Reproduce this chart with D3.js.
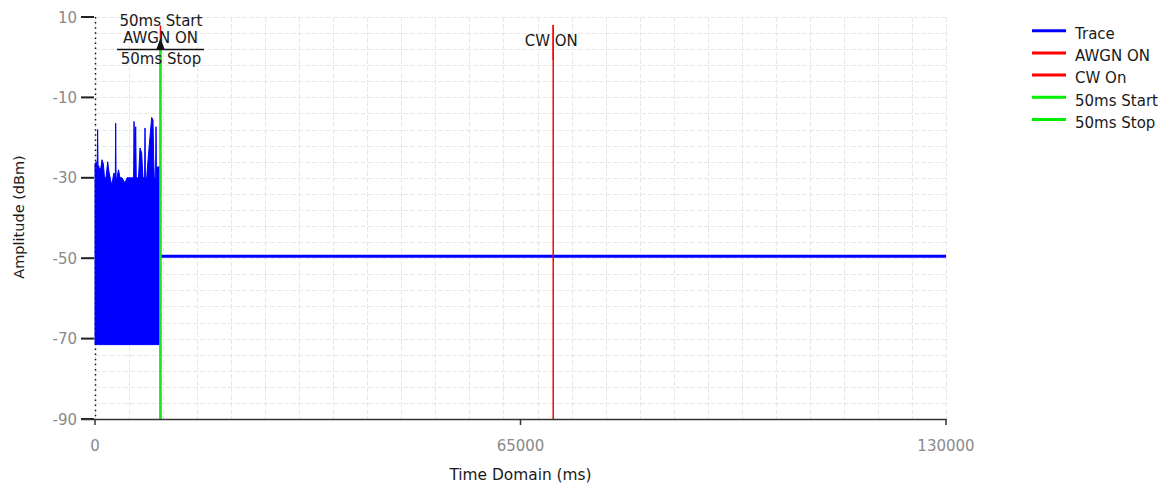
<!DOCTYPE html>
<html>
<head>
<meta charset="utf-8">
<script src="https://cdn.jsdelivr.net/npm/d3@7/dist/d3.min.js"></script>
<style>
  html, body { margin: 0; padding: 0; background: #fff; }
  svg { display: block; font-family: "DejaVu Sans", sans-serif; }
</style>
</head>
<body>
<svg id="chart" width="1169" height="491"></svg>
<script>
// ---- data ----
const xTicks = [0, 65000, 130000];
const yTicks = [10, -10, -30, -50, -70, -90];
// burst region (0 – 10000 ms): time of each spike sample and its peak amplitude
const burstTime = [0, 200, 330, 400, 470, 560, 700, 900, 1070, 1270, 1450, 1680, 1940, 2140, 2370, 2600, 2750, 2900, 3100, 3160, 3220, 3360, 3590, 3820, 4120, 4580, 4890, 5500, 5900, 5960, 6100, 6220, 6300, 6420, 6650, 6870, 7130, 7330, 7580, 7640, 7700, 7900, 8140, 8400, 8660, 8860, 8960, 9060, 9260, 9320, 9380, 9580, 9780, 10000];
const burstPeak = [-26.5, -26, -29, -18, -28, -27, -28, -27.5, -25.5, -26.5, -30, -30, -26, -28.6, -30.5, -32, -30, -28.8, -30, -16.4, -30, -30, -28, -30, -30, -31.3, -30, -30, -30, -16, -25, -17.3, -30, -30, -30, -22.6, -23.8, -30, -30, -17.6, -30, -30, -24.8, -19.8, -15, -15.6, -25, -30, -30, -17.3, -27.3, -27.3, -27.3, -27.3];
const burstFloor = -71.5;
// steady trace after the burst
const steadyTime = [10000, 130000];
const steadyLevel = [-49.5, -49.5];
// marker lines
const markers = [
  { name: "AWGN ON", time: 10000, top: 7.9, color: "#ff0000" },
  { name: "CW ON", time: 70000, top: 8.0, color: "#ff0000" },
  { name: "50ms Start", time: 10000, top: 2.3, color: "#1ee61e" }
];
const legendNames = ["Trace", "AWGN ON", "CW On", "50ms Start", "50ms Stop"];
const legendColors = ["#0000ff", "#ff0000", "#ff0000", "#00ee00", "#00ee00"];
const gridXStep = 5200;
const gridYStep = 4;

// ---- chart ----
const svg = d3.select("#chart");
const x = d3.scaleLinear().domain([0, 130000]).range([95, 946]);
const y = d3.scaleLinear().domain([-90, 10]).range([419, 17]);

// grid
const gx = d3.range(0, 130000 + 1, gridXStep);
const gy = d3.range(-90, 10 + 0.001, gridYStep);
const grid = svg.append("g").attr("stroke", "#e8e8e8").attr("stroke-width", 1).attr("stroke-dasharray", "5,2");
grid.selectAll("line.gx").data(gx).join("line")
  .attr("x1", d => Math.round(x(d)) + 0.5).attr("x2", d => Math.round(x(d)) + 0.5)
  .attr("y1", y(10)).attr("y2", y(-90));
grid.selectAll("line.gy").data(gy).join("line")
  .attr("y1", d => Math.round(y(d)) + 0.5).attr("y2", d => Math.round(y(d)) + 0.5)
  .attr("x1", x(0)).attr("x2", x(130000));

// burst area
const burst = burstTime.map((t, i) => ({ t, v: burstPeak[i] }));
svg.append("path").datum(burst)
  .attr("fill", "#0000ff")
  .attr("stroke", "#0000ff").attr("stroke-width", 1)
  .attr("d", d3.area().x(d => x(d.t)).y0(y(burstFloor)).y1(d => y(d.v)));

// steady trace
const steady = steadyTime.map((t, i) => ({ t, v: steadyLevel[i] }));
svg.append("path").datum(steady)
  .attr("fill", "none").attr("stroke", "#0000ff").attr("stroke-width", 3)
  .attr("d", d3.line().x(d => x(d.t)).y(d => y(d.v)));

// marker lines
svg.selectAll("line.marker").data(markers).join("line")
  .attr("x1", d => x(d.time)).attr("x2", d => x(d.time))
  .attr("y1", d => y(d.top)).attr("y2", y(-90))
  .attr("stroke", d => d.color)
  .attr("stroke-width", d => d.name === "50ms Start" ? 2.5 : 1.5);

// annotation: arrow + underline
const ax = x(10000);
svg.append("line").attr("x1", 117).attr("x2", 204).attr("y1", 49.5).attr("y2", 49.5)
  .attr("stroke", "#111").attr("stroke-width", 1.3);
svg.append("path").attr("d", `M${ax},38 L${ax - 4},49 L${ax + 4},49 Z`).attr("fill", "#111");

const annot = svg.append("g").attr("font-size", 15).attr("fill", "#1a1a1a").attr("text-anchor", "middle");
annot.append("text").attr("x", ax + 0.5).attr("y", 25.5).text("50ms Start");
annot.append("text").attr("x", ax).attr("y", 43).text("AWGN ON");
annot.append("text").attr("x", ax + 0.5).attr("y", 64).text("50ms Stop");
annot.append("text").attr("x", x(70000) - 2).attr("y", 46).text("CW ON");
// redraw CW line over its label
svg.append("line").attr("x1", x(70000)).attr("x2", x(70000)).attr("y1", y(8.0)).attr("y2", 60)
  .attr("stroke", "#ff0000").attr("stroke-width", 1.5);

// y axis (dotted line)
svg.append("line").attr("x1", 95.5).attr("x2", 95.5).attr("y1", y(10)).attr("y2", y(-90))
  .attr("stroke", "#111").attr("stroke-width", 1.5).attr("stroke-dasharray", "1.5,3.6");
const yAxis = svg.append("g");
yAxis.selectAll("line").data(yTicks).join("line")
  .attr("x1", 81).attr("x2", 94).attr("y1", d => y(d)).attr("y2", d => y(d))
  .attr("stroke", "#222").attr("stroke-width", 2);
yAxis.selectAll("text").data(yTicks).join("text")
  .attr("x", 77).attr("y", d => y(d)).attr("dy", "0.37em")
  .attr("text-anchor", "end").attr("font-size", 15).attr("fill", "#8a8a8a")
  .text(d => String(d));

// x axis
svg.append("line").attr("x1", 81).attr("x2", 946.5).attr("y1", 419.5).attr("y2", 419.5)
  .attr("stroke", "#333").attr("stroke-width", 1.5);
const xAxis = svg.append("g");
xAxis.selectAll("line").data(xTicks).join("line")
  .attr("x1", d => x(d)).attr("x2", d => x(d)).attr("y1", 419).attr("y2", 425)
  .attr("stroke", "#333").attr("stroke-width", 1.5);
xAxis.selectAll("text").data(xTicks).join("text")
  .attr("x", d => x(d)).attr("y", 451)
  .attr("text-anchor", "middle").attr("font-size", 15).attr("fill", "#8a8a8a")
  .text(d => String(d));

// axis titles
svg.append("text").attr("x", 520.5).attr("y", 480).attr("text-anchor", "middle")
  .attr("font-size", 15.4).attr("fill", "#1a1a1a").text("Time Domain (ms)");
svg.append("text").attr("transform", "translate(23.5,217) rotate(-90)")
  .attr("text-anchor", "middle").attr("font-size", 14.5).attr("fill", "#1a1a1a").text("Amplitude (dBm)");

// legend
const lg = svg.append("g");
legendNames.forEach((n, i) => {
  const ly = 30.7 + i * 22.2;
  lg.append("line").attr("x1", 1032).attr("x2", 1066).attr("y1", ly).attr("y2", ly)
    .attr("stroke", legendColors[i]).attr("stroke-width", 3);
  lg.append("text").attr("x", 1075).attr("y", ly + 8.2).attr("font-size", 15)
    .attr("fill", "#1a1a1a").text(n);
});
</script>
</body>
</html>
